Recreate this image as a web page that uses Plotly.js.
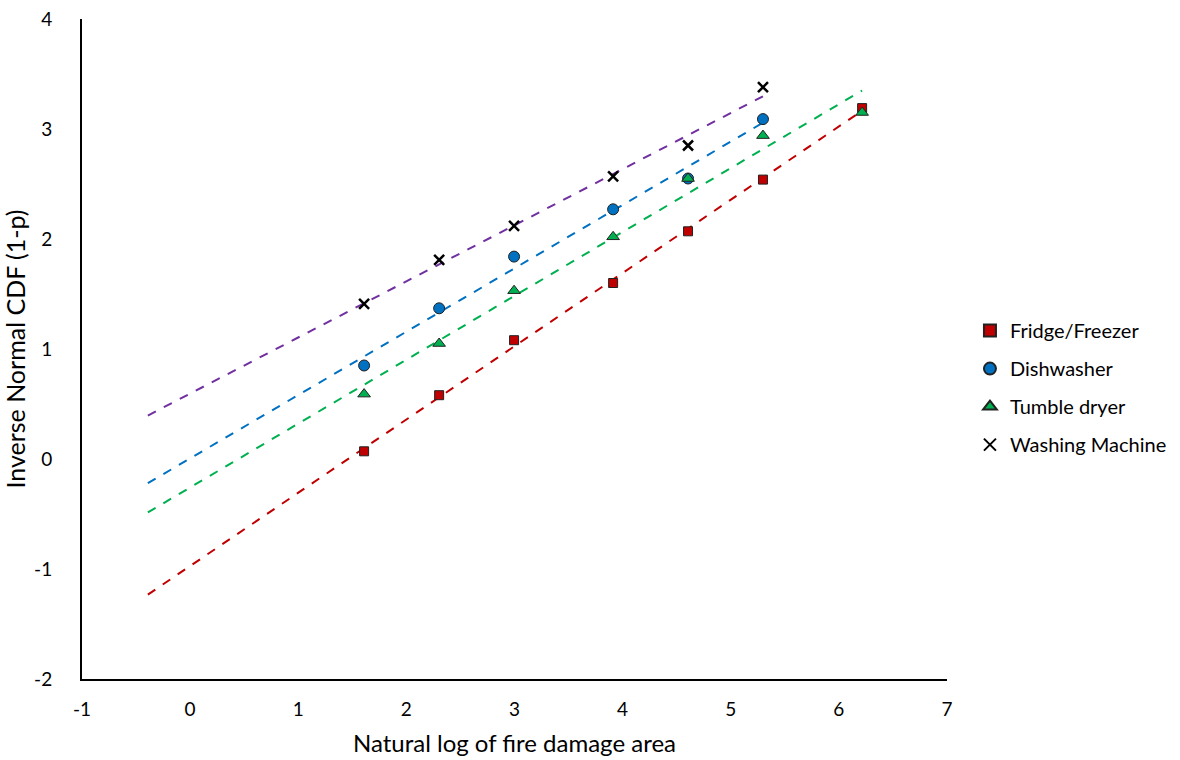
<!DOCTYPE html>
<html>
<head>
<meta charset="utf-8">
<script src="https://cdn.plot.ly/plotly-3.0.1.min.js"></script>
<style>html,body{margin:0;padding:0;background:#fff;}#chart{width:1180px;height:760px;}</style>
</head>
<body>
<div id="chart"></div>
<script>
// Data
const xFridge = [1.609, 2.303, 2.996, 3.912, 4.605, 5.298, 6.215];
const yFridge = [0.07, 0.58, 1.08, 1.60, 2.07, 2.54, 3.19];
const xDish = [1.609, 2.303, 2.996, 3.912, 4.605, 5.298];
const yDish = [0.85, 1.37, 1.84, 2.27, 2.55, 3.09];
const xTumble = [1.609, 2.303, 2.996, 3.912, 4.605, 5.298, 6.215];
const yTumble = [0.59, 1.05, 1.53, 2.02, 2.55, 2.94, 3.15];
const xWash = [1.609, 2.303, 2.996, 3.912, 4.605, 5.298];
const yWash = [1.41, 1.81, 2.12, 2.57, 2.85, 3.38];
const seriesNames = ["Fridge/Freezer", "Dishwasher", "Tumble dryer", "Washing Machine"];
const xTickVals = [-1, 0, 1, 2, 3, 4, 5, 6, 7];
const xTickText = ["-1", "0", "1", "2", "3", "4", "5", "6", "7"];
const yTickVals = [-2, -1, 0, 1, 2, 3, 4];
const yTickText = ["-2", "-1", "0", "1", "2", "3", "4"];
const trendBackward = 2; // linear trendline forecast backward (units)

const FONT = "Lato, 'Noto Sans', sans-serif";

function linFit(xs, ys) {
  const n = xs.length;
  const mx = xs.reduce((a, b) => a + b, 0) / n;
  const my = ys.reduce((a, b) => a + b, 0) / n;
  let sxy = 0, sxx = 0;
  for (let i = 0; i < n; i++) { sxy += (xs[i] - mx) * (ys[i] - my); sxx += (xs[i] - mx) ** 2; }
  const m = sxy / sxx;
  return { m: m, b: my - m * mx };
}

function trend(xs, ys, color) {
  const f = linFit(xs, ys);
  const x0 = Math.min(...xs) - trendBackward;
  const x1 = Math.max(...xs);
  return {
    x: [x0, x1], y: [f.m * x0 + f.b, f.m * x1 + f.b],
    mode: "lines", type: "scatter", showlegend: false, hoverinfo: "skip",
    line: { color: color, width: 2, dash: "dash" }
  };
}

const styles = [
  { xs: xFridge, ys: yFridge, sym: "square", col: "#C00000", line: "#C00000", size: 9 },
  { xs: xDish, ys: yDish, sym: "circle", col: "#0070C0", line: "#0070C0", size: 11 },
  { xs: xTumble, ys: yTumble, sym: "triangle-up", col: "#00B050", line: "#00B050", size: 11 },
  { xs: xWash, ys: yWash, sym: "x-thin", col: "#000000", line: "#7030A0", size: 10 }
];

const traces = [];
styles.forEach(s => traces.push(trend(s.xs, s.ys, s.line)));
styles.forEach((s, i) => {
  const mk = { symbol: s.sym, size: s.size, color: s.col };
  if (s.sym === "x-thin") { mk.line = { color: "#000", width: 2.5 }; }
  else { mk.line = { color: "#222", width: 1 }; }
  traces.push({
    x: s.xs, y: s.ys, name: seriesNames[i], legendgroup: "g" + i,
    mode: "markers", type: "scatter", marker: mk
  });
});

const layout = {
  width: 1180, height: 760,
  paper_bgcolor: "#fff", plot_bgcolor: "#fff",
  margin: { l: 82, r: 233, t: 19, b: 81 },
  font: { family: FONT, size: 18, color: "#000" },
  showlegend: true,
  legend: { xref: "container", yref: "container", x: 0.822, y: 0.49, yanchor: "middle", xanchor: "left",
            font: { size: 20 }, tracegroupgap: 9, itemsizing: "constant", itemwidth: 30 },
  xaxis: {
    range: [-1, 7], tickvals: xTickVals, ticktext: xTickText, showgrid: false, zeroline: false,
    showline: true, linecolor: "#000", linewidth: 2,
    ticks: "outside", ticklen: 12, tickcolor: "rgba(0,0,0,0)",
    tickfont: { size: 19 },
    title: { text: "Natural log of fire damage area", font: { size: 24 }, standoff: 16 }
  },
  yaxis: {
    range: [-2, 4], tickvals: yTickVals, ticktext: yTickText, showgrid: false, zeroline: false,
    showline: true, linecolor: "#000", linewidth: 2,
    ticks: "outside", ticklen: 24, tickcolor: "rgba(0,0,0,0)",
    tickfont: { size: 19 },
    title: { text: "Inverse Normal CDF (1-p)", font: { size: 25 }, standoff: 1 }
  }
};

Plotly.newPlot("chart", traces, layout, { displayModeBar: false, staticPlot: true });
</script>
</body>
</html>
